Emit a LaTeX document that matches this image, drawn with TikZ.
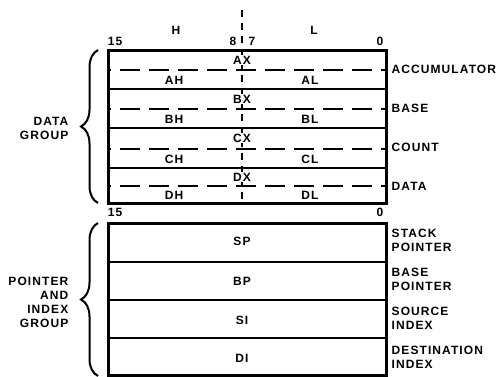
\documentclass[tikz,border=0pt]{standalone}
\usepackage{fontspec}
\setmainfont{Liberation Sans}
\usetikzlibrary{decorations.pathreplacing}
\begin{document}
\begin{tikzpicture}[x=1pt,y=-1pt,
  lbl/.style={font=\fontsize{12}{14}\selectfont\bfseries\addfontfeatures{LetterSpace=9}, inner sep=0.5pt},
  cen/.style={lbl,fill=white},
  rlbl/.style={lbl,anchor=west,align=left},
  llbl/.style={lbl,anchor=east,align=right},
  outer/.style={line width=3pt},
  sep/.style={line width=2pt},
  half/.style={line width=1.8pt,dash pattern=on 20pt off 9pt,dash phase=-12pt},
  vdash/.style={line width=1.8pt,dash pattern=on 7pt off 6pt},
  grpbrace/.style={decorate,decoration={brace,amplitude=17pt},line width=2pt}]
\useasboundingbox (0,0) rectangle (498,376);
% coordinates
\coordinate (tl) at (108,50);
\coordinate (br) at (386,203);
\coordinate (ptl) at (108,223);
\coordinate (pbr) at (386,375);
\coordinate (ctop) at (242,10);
\coordinate (cbot) at (242,203);
% data group rows
\draw[sep] (108,89) -- (386,89);
\draw[sep] (108,128) -- (386,128);
\draw[sep] (108,168) -- (386,168);
\draw[half] (108,70) -- (386,70);
\draw[half] (108,109) -- (386,109);
\draw[half] (108,149) -- (386,149);
\draw[half] (108,186) -- (386,186);
\draw[vdash] (ctop) -- (cbot);
\draw[outer] (tl) rectangle (br);
% pointer rows
\draw[sep] (108,262) -- (386,262);
\draw[sep] (108,300) -- (386,300);
\draw[sep] (108,338) -- (386,338);
\draw[outer] (ptl) rectangle (pbr);
% top labels
\node[lbl] (h) at (176,30) {H};
\node[lbl] (l) at (314,30) {L};
\node[lbl] (n15) at (115,41) {15};
\node[lbl] (n8) at (233,41) {8};
\node[lbl] (n7) at (252,41) {7};
\node[lbl] (n0) at (380,41) {0};
% register labels
\node[cen] (ax) at (242,60) {AX};
\node[lbl] (ah) at (174,80) {AH};
\node[lbl] (al) at (310,80) {AL};
\node[cen] (bx) at (242,99) {BX};
\node[lbl] (bh) at (174,119) {BH};
\node[lbl] (bl) at (310,119) {BL};
\node[cen] (cx) at (242,138) {CX};
\node[lbl] (ch) at (174,159) {CH};
\node[lbl] (cl) at (310,159) {CL};
\node[cen] (dx) at (242,177) {DX};
\node[lbl] (dh) at (174,195) {DH};
\node[lbl] (dl) at (310,195) {DL};
% pointer bit numbers
\node[lbl] (p15) at (115,212) {15};
\node[lbl] (p0) at (380,212) {0};
\node[lbl] (sp) at (242,241) {SP};
\node[lbl] (bp) at (242,281) {BP};
\node[lbl] (si) at (242,320) {SI};
\node[lbl] (di) at (242,358) {DI};
% right labels
\node[rlbl] (acc) at (391,69) {ACCUMULATOR};
\node[rlbl] (base) at (391,108) {BASE};
\node[rlbl] (count) at (391,147) {COUNT};
\node[rlbl] (data) at (391,186) {DATA};
\node[rlbl] (stk) at (391,240) {STACK\\POINTER};
\node[rlbl] (bsp) at (391,279) {BASE\\POINTER};
\node[rlbl] (src) at (391,318) {SOURCE\\INDEX};
\node[rlbl] (dst) at (391,357) {DESTINATION\\INDEX};
% braces
\draw[grpbrace] (98,203) -- (98,50);
\draw[grpbrace] (98,376) -- (98,223);
\node[llbl] (dg) at (69,128) {DATA\\GROUP};
\node[llbl] (pig) at (69,302) {POINTER\\AND\\INDEX\\GROUP};
\end{tikzpicture}
\end{document}
